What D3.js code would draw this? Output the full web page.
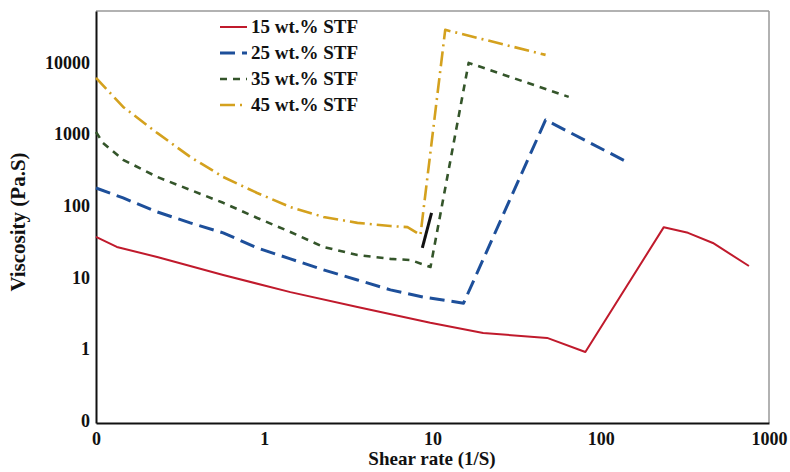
<!DOCTYPE html>
<html>
<head>
<meta charset="utf-8">
<script src="https://cdn.jsdelivr.net/npm/d3@7"></script>
<style>
  body { margin: 0; background: #fff; }
  text { font-family: "Liberation Serif", "Times New Roman", serif; font-weight: bold; fill: #111; }
</style>
</head>
<body>
<script>
// values (shear rate 1/s, viscosity Pa.s)
var seriesNames = ["15 wt.% STF", "25 wt.% STF", "35 wt.% STF", "45 wt.% STF"];

var rate15 = [0.1, 0.133, 0.231, 0.57, 1.43, 3.58, 9.7, 20, 48, 81, 237, 330, 464, 760];
var visc15 = [39.4, 28.6, 20.7, 11.6, 6.7, 4.16, 2.5, 1.8, 1.54, 0.98, 54, 45, 32.5, 15.5];

var rate25 = [0.1, 0.145, 0.231, 0.363, 0.57, 0.908, 1.43, 2.25, 3.58, 5.62, 8.84, 15.3, 47, 147];
var visc25 = [190, 138, 88, 62, 45, 27.7, 19.5, 13.7, 9.9, 7.2, 5.7, 4.7, 1690, 425];

var rate35 = [0.1, 0.11, 0.145, 0.231, 0.363, 0.57, 0.908, 1.43, 2.25, 3.58, 5.62, 7.4, 9.73, 16.4, 64.5];
var visc35 = [1150, 810, 470, 271, 179, 118, 72.6, 46.3, 28.6, 22.1, 19.5, 18.8, 15.0, 10580, 3550];

var rate45 = [0.1, 0.145, 0.231, 0.363, 0.57, 0.908, 1.43, 2.25, 3.58, 5.62, 7.1, 8.48, 11.9, 47];
var visc45 = [6530, 2570, 1115, 516, 271, 162, 103, 75, 62, 56, 54, 42, 30550, 13680];

// short solid black stroke near 10 1/s
var markRate = [8.7, 9.87];
var markVisc = [27.7, 85.3];

var xTicks = [0.1, 1, 10, 100, 1000];
var xTickLabels = ["0", "1", "10", "100", "1000"];
var yTicks = [0.1, 1, 10, 100, 1000, 10000];
var yTickLabels = ["0", "1", "10", "100", "1000", "10000"];

var colors = ["#c01a2c", "#1d4f9a", "#34552a", "#d4a11e"];
var dashes = ["none", "15,7", "7,6", "15,5,2,5"];
var widths = [2, 3, 2.6, 2.6];

function drawChart() {
    var W = 790, H = 472;
    var margin = {left: 96, right: 769, top: 11, bottom: 423};

    var svg = d3.select("body").append("svg")
        .attr("width", W)
        .attr("height", H);

    var x = d3.scaleLog().domain([0.1, 1000]).range([margin.left, margin.right]);
    var y = d3.scaleLog().domain([0.1, 56000]).range([margin.bottom, margin.top]);

    // frame: light grey top/right, black left/bottom
    svg.append("line")
        .attr("x1", margin.left).attr("x2", margin.right)
        .attr("y1", margin.top).attr("y2", margin.top)
        .attr("stroke", "#999").attr("stroke-width", 1.5);
    svg.append("line")
        .attr("x1", margin.right).attr("x2", margin.right)
        .attr("y1", margin.top).attr("y2", margin.bottom)
        .attr("stroke", "#999").attr("stroke-width", 1.5);

    var xAxis = svg.append("g")
        .attr("transform", "translate(0," + margin.bottom + ")")
        .call(d3.axisBottom(x).tickValues(xTicks).tickSize(0).tickPadding(9)
            .tickFormat(function (d, i) { return xTickLabels[i]; }));
    xAxis.select(".domain").attr("stroke", "#111").attr("stroke-width", 2);
    xAxis.selectAll("text").style("font-size", "18px").attr("fill", "#111");

    var yAxis = svg.append("g")
        .attr("transform", "translate(" + margin.left + ",0)")
        .call(d3.axisLeft(y).tickValues(yTicks).tickSize(0).tickPadding(6)
            .tickFormat(function (d, i) { return yTickLabels[i]; }));
    yAxis.select(".domain").attr("stroke", "#111").attr("stroke-width", 2);
    yAxis.selectAll("text").style("font-size", "18px").attr("fill", "#111").attr("dy", "0.2em");

    svg.append("text")
        .attr("x", 432).attr("y", 465)
        .attr("text-anchor", "middle")
        .style("font-size", "19px")
        .text("Shear rate (1/S)");

    svg.append("text")
        .attr("transform", "translate(25,222) rotate(-90)")
        .attr("text-anchor", "middle")
        .style("font-size", "21px")
        .text("Viscosity (Pa.S)");

    var line = d3.line()
        .x(function (d) { return x(d[0]); })
        .y(function (d) { return y(d[1]); });

    var rates = [rate15, rate25, rate35, rate45];
    var viscs = [visc15, visc25, visc35, visc45];

    // draw from high concentration down so red ends up on top
    for (var s = 3; s >= 0; s--) {
        svg.append("path")
            .datum(d3.zip(rates[s], viscs[s]))
            .attr("d", line)
            .attr("fill", "none")
            .attr("stroke", colors[s])
            .attr("stroke-width", widths[s])
            .attr("stroke-dasharray", dashes[s])
            .attr("stroke-linejoin", "round");
    }

    svg.append("path")
        .datum(d3.zip(markRate, markVisc))
        .attr("d", line)
        .attr("fill", "none")
        .attr("stroke", "#111")
        .attr("stroke-width", 3);

    // legend
    var legend = svg.append("g").attr("transform", "translate(220,27)");
    seriesNames.forEach(function (name, i) {
        var row = legend.append("g").attr("transform", "translate(0," + (i * 26) + ")");
        row.append("line")
            .attr("x1", 0).attr("x2", 27).attr("y1", 0).attr("y2", 0)
            .attr("stroke", colors[i])
            .attr("stroke-width", widths[i])
            .attr("stroke-dasharray", dashes[i]);
        row.append("text")
            .attr("x", 31).attr("y", 6)
            .style("font-size", "19px")
            .text(name);
    });
}

drawChart();
</script>
</body>
</html>
